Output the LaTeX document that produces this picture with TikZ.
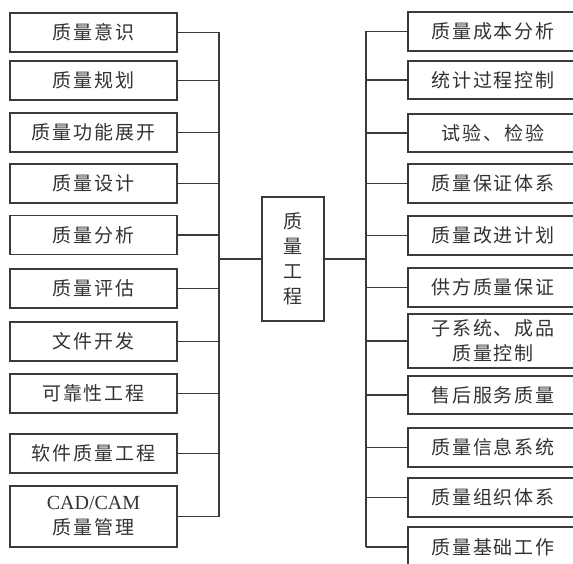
\documentclass[tikz,border=0pt]{standalone}
\usepackage{fontspec}
\newfontfamily\cjk[LetterSpace=10]{Noto Sans CJK SC}
\newfontfamily\lat{Liberation Serif}
\definecolor{ink}{HTML}{333333}
\definecolor{linec}{HTML}{3A3A3A}
\begin{document}
\begin{tikzpicture}[x=1pt,y=-1pt,
  box/.style={draw=linec, line width=1.2pt, rectangle, inner sep=0pt, align=center,
    text=ink, font=\cjk\fontsize{19}{25}\selectfont},
  lbox/.style={box, minimum width=167pt, minimum height=39pt},
  rbox/.style={box, minimum width=170pt, minimum height=39pt},
  conn/.style={draw=linec, line width=1.2pt}]
\clip (0,0) rectangle (573,564);
\fill[white] (0,0) rectangle (573,564);
% left column
\node[lbox] (L1) at (93.5,32.5) {质量意识};
\node[lbox] (L2) at (93.5,80.5) {质量规划};
\node[lbox] (L3) at (93.5,132.5) {质量功能展开};
\node[lbox] (L4) at (93.5,183.5) {质量设计};
\node[lbox] (L5) at (93.5,235) {质量分析};
\node[lbox] (L6) at (93.5,288.5) {质量评估};
\node[lbox] (L7) at (93.5,341.5) {文件开发};
\node[lbox] (L8) at (93.5,393.5) {可靠性工程};
\node[lbox] (L9) at (93.5,453.5) {软件质量工程};
\node[lbox, minimum height=61pt] (L10) at (93.5,516.5) {{\lat\fontsize{20}{25}\selectfont CAD/CAM}\\质量管理};
% centre
\node[box, minimum width=62pt, minimum height=124pt] (C) at (293,259) {质\\量\\工\\程};
% right column
\node[rbox] (R1) at (493,31.5) {质量成本分析};
\node[rbox, minimum height=38pt] (R2) at (493,80) {统计过程控制};
\node[rbox, minimum height=38pt] (R3) at (493,133) {试验、检验};
\node[rbox] (R4) at (493,183.5) {质量保证体系};
\node[rbox] (R5) at (493,235.5) {质量改进计划};
\node[rbox] (R6) at (493,287.5) {供方质量保证};
\node[rbox, minimum height=54pt] (R7) at (493,341) {子系统、成品\\质量控制};
\node[rbox, minimum height=38pt] (R8) at (493,395) {售后服务质量};
\node[rbox] (R9) at (493,447.5) {质量信息系统};
\node[rbox] (R10) at (493,497.5) {质量组织体系};
\node[rbox, minimum height=40pt] (R11) at (493,547) {质量基础工作};
% buses
\coordinate (lb) at (219,0);
\coordinate (rb) at (366,0);
\foreach \n in {L1,L2,L3,L4,L5,L6,L7,L8,L9,L10}
  \draw[conn] (\n.east) -- (\n.east -| lb);
\draw[conn] (L1.east -| lb) -- (L10.east -| lb);
\draw[conn] (C.west) -- (C.west -| lb);
\foreach \n in {R1,R2,R3,R4,R5,R6,R7,R8,R9,R10,R11}
  \draw[conn] (\n.west) -- (\n.west -| rb);
\draw[conn] (R1.west -| rb) -- (R11.west -| rb);
\draw[conn] (C.east) -- (C.east -| rb);
\end{tikzpicture}
\end{document}
